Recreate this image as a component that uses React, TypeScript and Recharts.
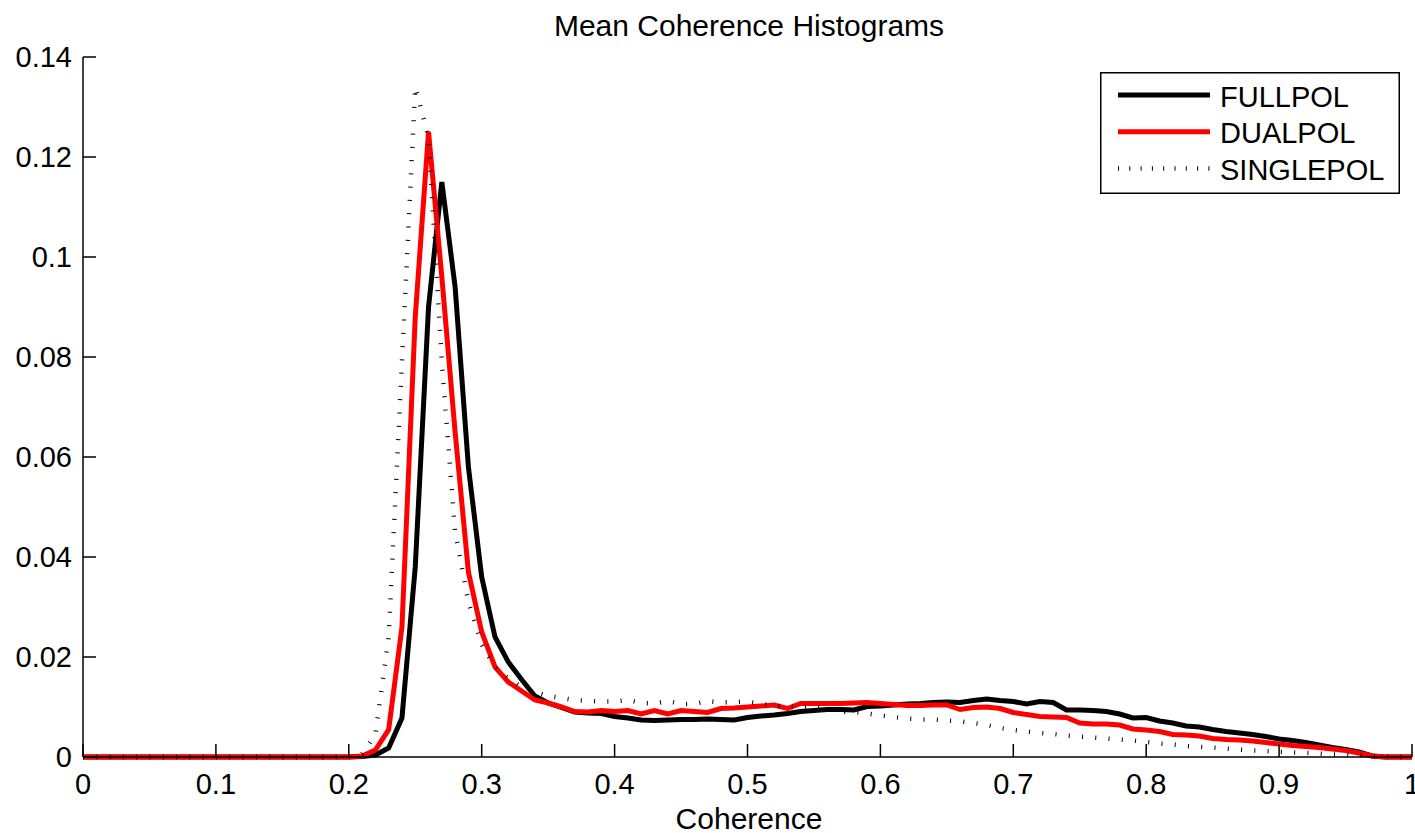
import React from 'react';
import { LineChart, Line, XAxis, YAxis, Legend } from 'recharts';

// histogram bins (coherence 0..1, step 0.01)
const BINS = Array.from({ length: 101 }, (_, i) => i / 100);

const FULLPOL = [
  0, 0, 0, 0, 0, 0, 0, 0, 0, 0,
  0, 0, 0, 0, 0, 0, 0, 0, 0, 0,
  0, 0.0001, 0.0004, 0.0018, 0.0078, 0.038, 0.09, 0.115, 0.094, 0.058,
  0.036, 0.024, 0.019, 0.0155, 0.0122, 0.0108, 0.0099, 0.009, 0.0088, 0.0087,
  0.0081, 0.0078, 0.0074, 0.0073, 0.0074, 0.0075, 0.0075, 0.0076, 0.0075, 0.0074,
  0.0079, 0.0082, 0.0084, 0.0087, 0.0091, 0.0093, 0.0095, 0.0095, 0.0094, 0.0101,
  0.0102, 0.0104, 0.0106, 0.0107, 0.0109, 0.011, 0.0109, 0.0113, 0.0116, 0.0113,
  0.0111, 0.0106, 0.0111, 0.0109, 0.0094, 0.0094, 0.0093, 0.0091, 0.0086, 0.0078,
  0.0079, 0.0072, 0.0068, 0.0062, 0.006, 0.0055, 0.0051, 0.0048, 0.0045, 0.0041,
  0.0036, 0.0033, 0.0029, 0.0024, 0.0019, 0.0015, 0.001, 0.0002, 0, 0,
  0
];

const DUALPOL = [
  0, 0, 0, 0, 0, 0, 0, 0, 0, 0,
  0, 0, 0, 0, 0, 0, 0, 0, 0, 0,
  0, 0.0002, 0.0014, 0.0055, 0.026, 0.088, 0.125, 0.096, 0.065, 0.037,
  0.025, 0.018, 0.015, 0.0132, 0.0114, 0.0108, 0.01, 0.0091, 0.009, 0.0093,
  0.0091, 0.0093, 0.0086, 0.0093, 0.0086, 0.0093, 0.0091, 0.0089, 0.0097, 0.0098,
  0.01, 0.0102, 0.0104, 0.0097, 0.0107, 0.0107, 0.0107, 0.0107, 0.0108, 0.0109,
  0.0107, 0.0105, 0.0103, 0.0103, 0.0104, 0.0104, 0.0095, 0.0099, 0.01, 0.0097,
  0.0089, 0.0085, 0.0081, 0.008, 0.0079, 0.0068, 0.0066, 0.0066, 0.0064, 0.0056,
  0.0054, 0.0051, 0.0045, 0.0044, 0.0042, 0.0037, 0.0035, 0.0034, 0.0032, 0.0029,
  0.0026, 0.0023, 0.0021, 0.0019, 0.0016, 0.0013, 0.0008, 0.0002, 0, 0,
  0
];

const SINGLEPOL = [
  0, 0, 0, 0, 0, 0, 0, 0, 0, 0,
  0, 0, 0, 0, 0, 0, 0, 0, 0, 0,
  0.0001, 0.0006, 0.0045, 0.024, 0.079, 0.134, 0.124, 0.079, 0.045, 0.031,
  0.0225, 0.018, 0.0157, 0.014, 0.013, 0.0122, 0.0118, 0.0114, 0.0112, 0.0111,
  0.0111, 0.0114, 0.0108, 0.0107, 0.0112, 0.0106, 0.0106, 0.0112, 0.0109, 0.011,
  0.0111, 0.0106, 0.0103, 0.0101, 0.01, 0.0102, 0.0098, 0.009, 0.009, 0.0087,
  0.0083, 0.008, 0.0077, 0.0075, 0.0075, 0.0073, 0.0071, 0.0068, 0.0064, 0.0058,
  0.0054, 0.0051, 0.0048, 0.0046, 0.0043, 0.0041, 0.0039, 0.0037, 0.0035, 0.0033,
  0.003, 0.0027, 0.0025, 0.0022, 0.002, 0.0019, 0.0017, 0.0015, 0.0013, 0.0012,
  0.001, 0.0009, 0.0008, 0.0007, 0.0005, 0.0005, 0.0003, 0.0002, 0.0001, 0,
  0
];

const X_TICKS = [0, 0.1, 0.2, 0.3, 0.4, 0.5, 0.6, 0.7, 0.8, 0.9, 1];
const Y_TICKS = [0, 0.02, 0.04, 0.06, 0.08, 0.1, 0.12, 0.14];

const SERIES = [
  { key: 'full', name: 'FULLPOL', color: '#000000', width: 5, dash: undefined, legendDash: undefined },
  { key: 'dual', name: 'DUALPOL', color: '#ff0000', width: 5, dash: undefined, legendDash: undefined },
  { key: 'single', name: 'SINGLEPOL', color: '#000000', width: 4.5, dash: '1 12.3', legendDash: '1 10.3' }
];

const FONT = '"Liberation Sans", Arial, Helvetica, sans-serif';
const FONT_SIZE = 29;
const LABEL_SIZE = 30;

const data = BINS.map((x, i) => ({
  x,
  full: FULLPOL[i],
  dual: DUALPOL[i],
  single: SINGLEPOL[i]
}));

const tickStyle = { fill: '#000', fontSize: FONT_SIZE, fontFamily: FONT };
const axisStroke = { stroke: '#000', strokeWidth: 1.5 };

function renderLegend() {
  return (
    <svg width={300} height={122} style={{ display: 'block' }}>
      <rect x={0.75} y={0.75} width={298.5} height={120.5} fill="#fff" stroke="#000" strokeWidth={1.5} />
      {SERIES.map((s, i) => (
        <g key={s.key}>
          <line
            x1={18}
            x2={110}
            y1={23 + i * 36.7}
            y2={23 + i * 36.7}
            stroke={s.color}
            strokeWidth={s.width}
            strokeDasharray={s.legendDash}
          />
          <text x={120} y={34.5 + i * 36.7} fontSize={FONT_SIZE} fontFamily={FONT} fill="#000">
            {s.name}
          </text>
        </g>
      ))}
    </svg>
  );
}

export default function App() {
  return (
    <div style={{ position: 'absolute', left: 0, top: 0, width: 1415, height: 833, background: '#fff' }}>
      <LineChart
        width={1415}
        height={833}
        data={data}
        margin={{ top: 57, right: 3, bottom: 26, left: 0 }}
        style={{ fontFamily: FONT }}
      >
        <XAxis
          dataKey="x"
          type="number"
          domain={[0, 1]}
          ticks={X_TICKS}
          height={50}
          tickSize={-13}
          tickMargin={29}
          tick={tickStyle}
          tickLine={axisStroke}
          axisLine={axisStroke}
          interval={0}
        />
        <XAxis
          xAxisId="top"
          orientation="top"
          dataKey="x"
          type="number"
          domain={[0, 1]}
          ticks={X_TICKS}
          height={0}
          tickSize={-13}
          tickFormatter={() => ''}
          tickLine={axisStroke}
          axisLine={axisStroke}
          interval={0}
        />
        <YAxis
          type="number"
          domain={[0, 0.14]}
          ticks={Y_TICKS}
          width={83}
          tickSize={-13}
          tickMargin={24}
          tick={tickStyle}
          tickLine={axisStroke}
          axisLine={axisStroke}
          interval={0}
        />
        <YAxis
          yAxisId="right"
          orientation="right"
          type="number"
          domain={[0, 0.14]}
          ticks={Y_TICKS}
          width={0}
          tickSize={-13}
          tickFormatter={() => ''}
          tickLine={axisStroke}
          axisLine={axisStroke}
          interval={0}
        />
        <Legend
          layout="vertical"
          align="center"
          verticalAlign="middle"
          wrapperStyle={{ left: 1100, top: 72, width: 300, height: 122 }}
          content={renderLegend}
        />
        {SERIES.map((s) => (
          <Line
            key={s.key}
            dataKey={s.key}
            name={s.name}
            type="linear"
            stroke={s.color}
            strokeWidth={s.width}
            strokeDasharray={s.dash}
            dot={false}
            activeDot={false}
            isAnimationActive={false}
          />
        ))}
      </LineChart>
      <svg
        width={1415}
        height={833}
        style={{ position: 'absolute', left: 0, top: 0, pointerEvents: 'none' }}
      >
        <text x={749} y={36} textAnchor="middle" fontSize={LABEL_SIZE} fontFamily={FONT} fill="#000">
          Mean Coherence Histograms
        </text>
        <text x={749} y={829} textAnchor="middle" fontSize={LABEL_SIZE} fontFamily={FONT} fill="#000">
          Coherence
        </text>
      </svg>
    </div>
  );
}
